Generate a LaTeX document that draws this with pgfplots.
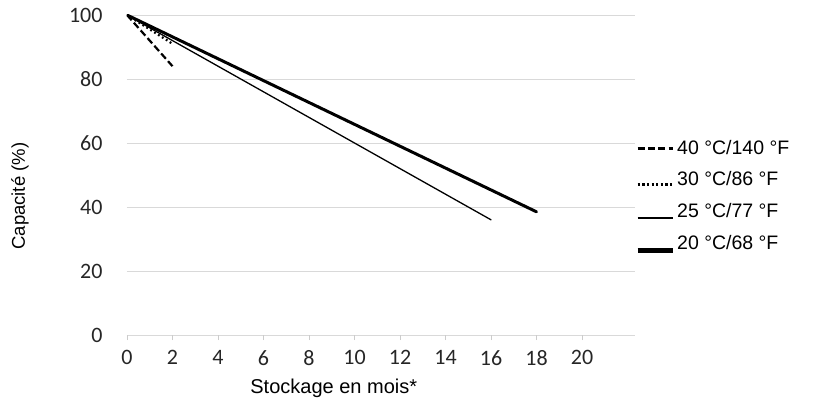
\documentclass[border=0pt]{standalone}
\usepackage{pgfplots}
\pgfplotsset{compat=1.18}
\usepackage{fontspec}
\setmainfont{Liberation Sans}
\newfontfamily\carlito{Carlito}
\pgfplotsset{
  legA/.style={legend image code/.code={\draw[##1, line width=2.8pt] (0pt,-1pt) -- (35pt,-1pt);}},
  legD/.style={legend image code/.code={\draw[##1, line width=2.6pt, dash pattern=on 2.3pt off 2.3pt] (0pt,-5pt) -- (35pt,-5pt);}},
  legB/.style={legend image code/.code={\draw[##1, line width=2.3pt, line cap=butt] (0pt,-7pt) -- (35pt,-7pt);}},
  legC/.style={legend image code/.code={\draw[##1, line width=5pt, line cap=butt] (0pt,-8pt) -- (35pt,-8pt);}},
}
\begin{document}
\begin{tikzpicture}
\useasboundingbox (-127pt,-77pt) rectangle (686pt,335pt);
\begin{axis}[
  scale only axis,
  width=508pt, height=320pt,
  xmin=0, xmax=22.33, ymin=0, ymax=100,
  xtick={0,2,...,20}, ytick={0,20,...,100},
  axis line style={draw=none},
  ymajorgrids, grid style={draw=black!15, line width=0.8pt},
  xtick pos=bottom, ytick pos=left,
  tick align=outside,
  x tick style={draw=black!20, line width=0.8pt},
  major tick length=5pt,
  y tick style={draw=none},
  /pgf/number format/assume math mode=true,
  ticklabel style={font=\carlito\fontsize{22}{25}\selectfont, text=black!85},
  xticklabel style={yshift=-7pt},
  yticklabel style={xshift=-16pt},
  xlabel={Stockage en mois*},
  ylabel={Capacité (\%)},
  xlabel style={at={(rel axis cs:0.407,0)}, anchor=center, yshift=-53pt, font=\fontsize{20}{23}\selectfont},
  ylabel style={at={(rel axis cs:0,0.434)}, anchor=center, yshift=107pt, font=\fontsize{18.5}{21}\selectfont},
  legend style={at={(rel axis cs:1.0,0.616)}, anchor=north west, draw=none, fill=none,
    font=\fontsize{19.5}{22}\selectfont, row sep=12pt, inner sep=0pt,
    /tikz/every even column/.style={column sep=6pt}},
  legend cell align=left,
]
\addplot[black, line width=2.2pt, dash pattern=on 7pt off 3.3pt, legA]
  coordinates {(0,100) (2,84)};
\addlegendentry{40 °C/140 °F}
\addplot[black, line width=2.2pt, dash pattern=on 1.8pt off 2.8pt, legD]
  coordinates {(0,100) (2,91)};
\addlegendentry{30 °C/86 °F}
\addplot[black, line width=1.3pt, line cap=round, legB]
  coordinates {(0,100) (16,36)};
\addlegendentry{25 °C/77 °F}
\addplot[black, line width=3pt, line cap=round, legC]
  coordinates {(0,100) (18,38.5)};
\addlegendentry{20 °C/68 °F}
\end{axis}
\end{tikzpicture}
\end{document}
